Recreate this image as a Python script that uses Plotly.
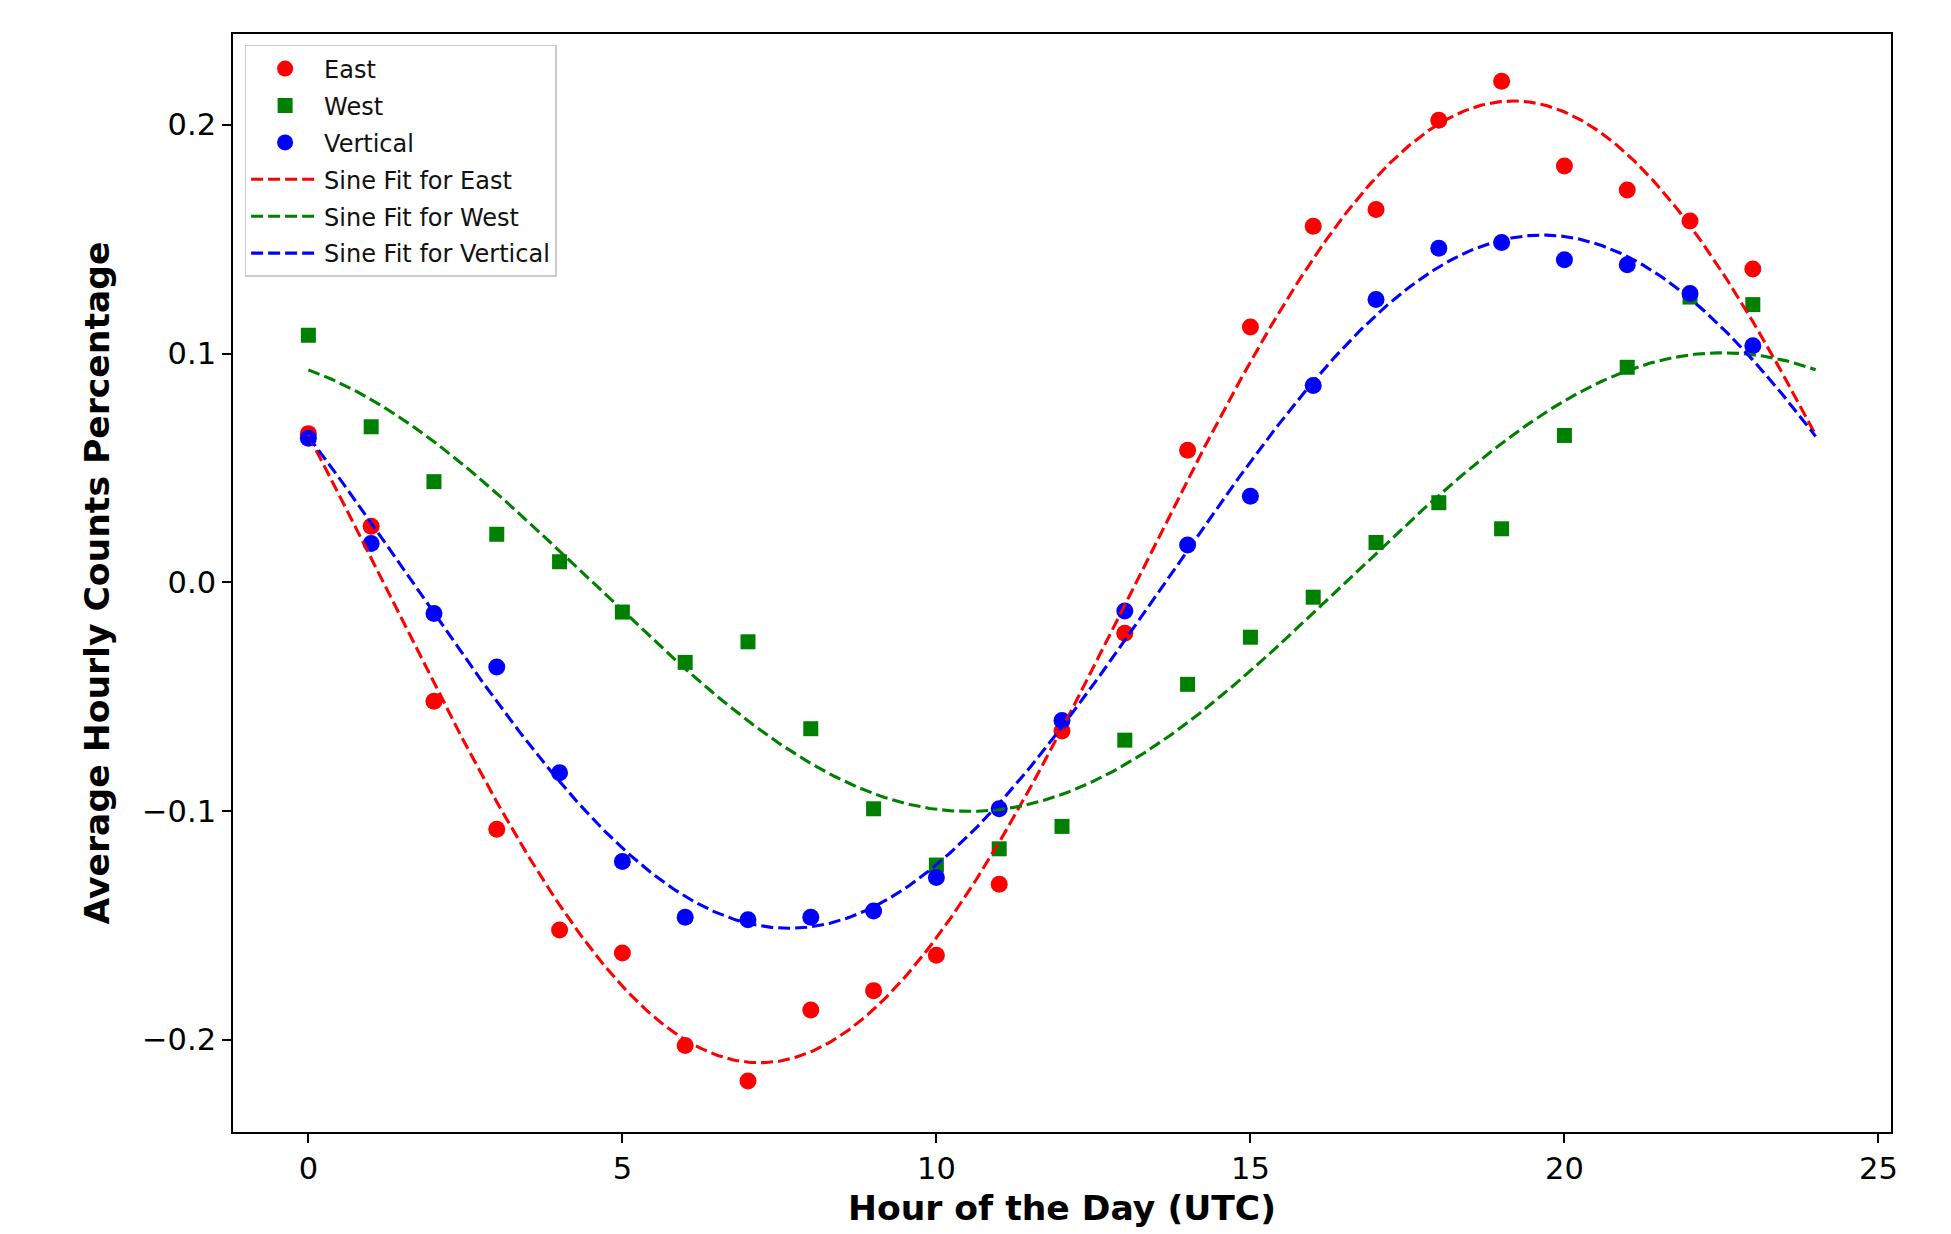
import numpy as np
import plotly.graph_objects as go

hours = list(range(24))

east = [0.065, 0.0245, -0.052, -0.108, -0.152, -0.162, -0.2025, -0.218,
        -0.187, -0.1785, -0.163, -0.132, -0.065, -0.0223, 0.0577, 0.1116,
        0.1557, 0.163, 0.202, 0.219, 0.182, 0.1715, 0.158, 0.137]

west = [0.108, 0.068, 0.044, 0.021, 0.009, -0.013, -0.035, -0.026,
        -0.064, -0.099, -0.1236, -0.1165, -0.1067, -0.069, -0.0446, -0.024,
        -0.0065, 0.0174, 0.0348, 0.0234, 0.0642, 0.094, 0.1247, 0.1214]

vertical = [0.063, 0.017, -0.0136, -0.037, -0.0833, -0.122, -0.1464, -0.1475,
            -0.1464, -0.1437, -0.129, -0.099, -0.0604, -0.0125, 0.0163, 0.0376,
            0.086, 0.1236, 0.146, 0.1486, 0.141, 0.1388, 0.1263, 0.1034]

period_hours = 24.0
x_ticks = [0, 5, 10, 15, 20, 25]
y_ticks = [-0.2, -0.1, 0.0, 0.1, 0.2]
y_tick_labels = ["\u22120.2", "\u22120.1", "0.0", "0.1", "0.2"]


def sine_fit(x, y, xfine):
    x = np.asarray(x, float)
    y = np.asarray(y, float)
    w = 2 * np.pi / period_hours
    A = np.column_stack([np.sin(w * x), np.cos(w * x), np.ones_like(x)])
    coef, *_ = np.linalg.lstsq(A, y, rcond=None)
    return coef[0] * np.sin(w * xfine) + coef[1] * np.cos(w * xfine) + coef[2]


xfine = np.linspace(0, 24, 600)

fig = go.Figure()
FONT = "DejaVu Sans"

fig.add_trace(go.Scatter(x=hours, y=east, mode="markers", name="East",
                         legendgroup="a",
                         marker=dict(color="red", size=17, symbol="circle")))
fig.add_trace(go.Scatter(x=hours, y=west, mode="markers", name="West",
                         legendgroup="b",
                         marker=dict(color="green", size=15, symbol="square")))
fig.add_trace(go.Scatter(x=hours, y=vertical, mode="markers", name="Vertical",
                         legendgroup="c",
                         marker=dict(color="blue", size=17, symbol="circle")))
for name, data, col, g in [("East", east, "red", "d"), ("West", west, "green", "e"),
                           ("Vertical", vertical, "blue", "f")]:
    fig.add_trace(go.Scatter(x=xfine, y=sine_fit(hours, data, xfine), mode="lines",
                             name="Sine Fit for " + name, legendgroup=g,
                             line=dict(color=col, width=3.1, dash="12px,5px")))

fig.update_layout(
    width=1943, height=1226,
    margin=dict(l=225, r=60, t=26, b=102, autoexpand=False),
    plot_bgcolor="white", paper_bgcolor="white",
    font=dict(family=FONT, color="black"),
    showlegend=True,
    legend=dict(x=0.007, y=0.990, xanchor="left", yanchor="top",
                bgcolor="rgba(255,255,255,0.8)", bordercolor="#cccccc", borderwidth=1.5,
                font=dict(family=FONT, size=24, color="#111111"),
                traceorder="grouped", tracegroupgap=2.7, itemwidth=68,
                entrywidth=250, entrywidthmode="pixels"),
    xaxis=dict(range=[-1.2, 25.2], tickvals=x_ticks, ticks="outside", ticklen=9,
               tickwidth=1.7, tickcolor="black", showline=True, linecolor="black",
               linewidth=1.7, mirror=True, showgrid=False, zeroline=False,
               tickfont=dict(family=FONT, size=30.5, color="black"),
               title=dict(text="<b>Hour of the Day (UTC)</b>",
                          font=dict(family=FONT, size=34.6, color="black"), standoff=10)),
    yaxis=dict(range=[-0.2403, 0.2397], tickvals=y_ticks, ticktext=y_tick_labels,
               ticks="outside", ticklen=9, tickwidth=1.7, tickcolor="black",
               showline=True, linecolor="black", linewidth=1.7, mirror=True,
               showgrid=False, zeroline=False,
               tickfont=dict(family=FONT, size=30.5, color="black"),
               title=dict(text="<b>Average Hourly Counts Percentage</b>",
                          font=dict(family=FONT, size=34.6, color="black"), standoff=22)),
)

fig.write_html("out.html")
